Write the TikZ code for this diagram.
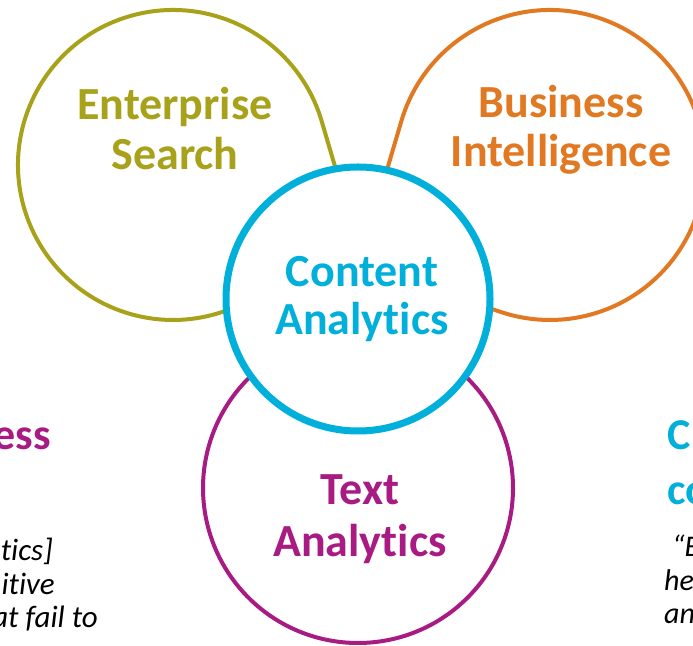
\documentclass[tikz,border=0pt]{standalone}
\usepackage{fontspec}
\setmainfont{Carlito}[Ligatures={NoCommon,NoContextual,NoRequired}]
\usetikzlibrary{calc}
\newcommand\brk{\kern0pt }
\definecolor{olive}{RGB}{168,162,26}
\definecolor{orng}{RGB}{225,120,34}
\definecolor{cblue}{RGB}{0,176,219}
\definecolor{purp}{RGB}{168,27,130}
\tikzset{
  drop/.style={line width=4pt, fill=white},
  head/.style={inner sep=0pt, anchor=base, font=\fontsize{46}{50}\selectfont\bfseries},
  side/.style={inner sep=0pt, font=\fontsize{44}{50}\selectfont\bfseries},
  quoteL/.style={inner sep=0pt, anchor=base east, font=\fontsize{31}{33}\selectfont\itshape},
  quoteR/.style={inner sep=0pt, anchor=base west, font=\fontsize{30}{33}\selectfont\itshape},
}
\begin{document}
\begin{tikzpicture}[x=1pt,y=1pt]
\useasboundingbox (0,0) rectangle (693,645);
\clip (0,0) rectangle (693,645);
% teardrops
\coordinate (yc) at (173,480);
\coordinate (yp) at (364,380);
\draw[drop, draw=olive] (yp) -- ($(yc)+(16.4:155)$) arc[start angle=16.4, end angle=288.4, radius=155] -- cycle;
\coordinate (oc) at (550,480);
\coordinate (op) at (359,380);
\draw[drop, draw=orng] (op) -- ($(oc)+(163.6:155)$) arc[start angle=163.6, end angle=-108.4, radius=155] -- cycle;
\coordinate (pc) at (358,157);
\coordinate (pp) at (358,372.6);
\draw[drop, draw=purp] (pp) -- ($(pc)+(46:155)$) arc[start angle=46, end angle=-226, radius=155] -- cycle;
% center circle
\coordinate (bc) at (358,346);
\draw[line width=7pt, draw=cblue, fill=white] (bc) circle[radius=132];
% labels
\node[head, text=olive] (es1) at (175,525) {Enterprise};
\node[head, text=olive] (es2) at (175,475) {Search};
\node[head, text=orng] (bi1) at (561,527) {Business};
\node[head, text=orng] (bi2) at (561,478) {Intelligence};
\node[head, text=cblue] (ca1) at (362,358) {Content};
\node[head, text=cblue] (ca2) at (362,310) {Analyt\brk ics};
\node[head, text=purp] (ta1) at (360,140) {Text};
\node[head, text=purp] (ta2) at (360,88) {Analyt\brk ics};
% side fragments
\node[side, anchor=base east, text=purp] (ls) at (51,195) {ess};
\node[side, anchor=base west, text=cblue] (rs1) at (667,195) {C};
\node[side, anchor=base west, text=cblue] (rs2) at (667,140) {co};
\node[quoteL] (lq1) at (53,84) {t\brk ics]};
\node[quoteL] (lq2) at (55,51) {it\brk ive};
\node[quoteL] (lq3) at (98,18) {at fail to};
\node[quoteR] (rq1) at (672,88) {“E};
\node[quoteR] (rq2) at (664,55) {he};
\node[quoteR] (rq3) at (664,22) {an};
\end{tikzpicture}
\end{document}
